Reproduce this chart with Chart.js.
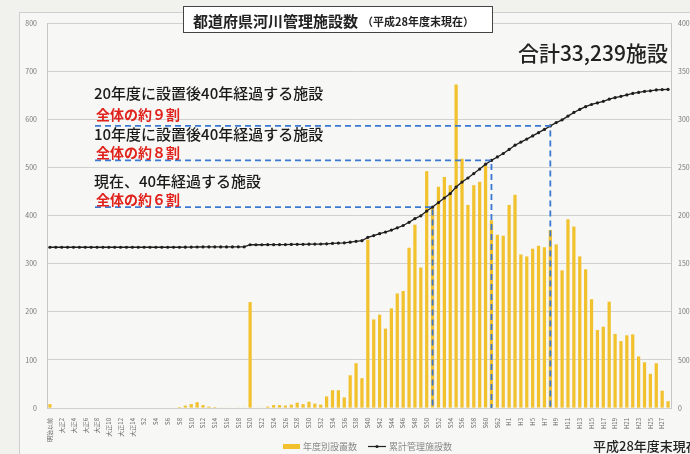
<!DOCTYPE html>
<html lang="ja">
<head>
    <meta charset="UTF-8">
    <title>都道府県河川管理施設数</title>
    <style>
        body {
            margin: 0;
            padding: 0;
            background-color: #f1f1ee;
            overflow: hidden;
        }

        #chartContainer {
            display: block;
        }
    </style>
</head>
<body>
    <canvas id="chartContainer" width="690" height="454"></canvas>

    <script src="https://cdn.jsdelivr.net/npm/chart.js"></script>
    <script>
        // 年度（明治以前, 大正1-14, 昭和1-63, 平成1-28）
        const categories = [
            '明治以前',
            '大正1', '大正2', '大正3', '大正4', '大正5', '大正6', '大正7', '大正8', '大正9', '大正10', '大正11', '大正12', '大正13', '大正14',
            'S1', 'S2', 'S3', 'S4', 'S5', 'S6', 'S7', 'S8', 'S9', 'S10', 'S11', 'S12', 'S13', 'S14', 'S15', 'S16', 'S17', 'S18', 'S19', 'S20',
            'S21', 'S22', 'S23', 'S24', 'S25', 'S26', 'S27', 'S28', 'S29', 'S30', 'S31', 'S32', 'S33', 'S34', 'S35', 'S36', 'S37', 'S38', 'S39', 'S40',
            'S41', 'S42', 'S43', 'S44', 'S45', 'S46', 'S47', 'S48', 'S49', 'S50', 'S51', 'S52', 'S53', 'S54', 'S55', 'S56', 'S57', 'S58', 'S59', 'S60',
            'S61', 'S62', 'S63',
            'H1', 'H2', 'H3', 'H4', 'H5', 'H6', 'H7', 'H8', 'H9', 'H10', 'H11', 'H12', 'H13', 'H14', 'H15', 'H16', 'H17', 'H18', 'H19', 'H20',
            'H21', 'H22', 'H23', 'H24', 'H25', 'H26', 'H27', 'H28'
        ];

        // 年度別設置数
        const yearlyCount = [
            8, 0, 0, 0, 0, 0, 0, 0, 0, 0, 0, 0, 0, 0, 0,
            0, 0, 0, 0, 0, 0, 0, 2, 5, 8, 12, 6, 3, 2, 1, 1, 0, 1, 1, 220,
            0, 1, 3, 6, 6, 5, 7, 11, 8, 13, 9, 7, 24, 37, 37, 22, 68, 93, 62, 350,
            184, 194, 165, 207, 238, 243, 333, 381, 292, 492,
            420, 460, 480, 463, 672, 518, 422, 463, 470, 504,
            390, 360, 358, 422, 443, 319, 315, 331, 337, 334,
            370, 340, 286, 392, 377, 315, 288, 226, 162, 169,
            221, 154, 139, 151, 153, 107, 95, 71, 93, 36, 14
        ];

        // 累計管理施設数
        const cumulativeCount = [
            16700, 16700, 16700, 16700, 16700, 16700, 16700, 16700, 16700, 16700, 16700,
            16700, 16700, 16700, 16700, 16700, 16700, 16700, 16700, 16700, 16700, 16700,
            16702, 16707, 16715, 16727, 16733, 16736, 16738, 16739, 16740, 16740, 16741, 16742, 16962,
            16962, 16963, 16966, 16972, 16978, 16983, 16990, 17001, 17009, 17022,
            17031, 17038, 17062, 17099, 17136, 17158, 17226, 17319, 17381, 17731,
            17915, 18109, 18274, 18481, 18719, 18962, 19295, 19676, 19968, 20460,
            20880, 21340, 21820, 22283, 22955, 23473, 23895, 24358, 24828, 25332,
            25722, 26082, 26440, 26862, 27305, 27624, 27939, 28270, 28607, 28941,
            29311, 29651, 29937, 30329, 30706, 31021, 31309, 31535, 31697, 31866,
            32087, 32241, 32380, 32531, 32684, 32791, 32886, 32957, 33050, 33086, 33100
        ];

        // 40年経過の区切り（現在・10年後・20年後）
        const milestoneIndex = [65, 75, 85];
        const milestoneTitles = ['現在、40年経過する施設', '10年度に設置後40年経過する施設', '20年度に設置後40年経過する施設'];
        const milestoneShares = ['全体の約６割', '全体の約８割', '全体の約９割'];

        const jpFont = "'Noto Sans CJK JP', 'Noto Sans', sans-serif";
        Chart.defaults.font.family = jpFont;

        const overlay = {
            id: 'overlay',
            beforeDraw(chart) {
                const ctx = chart.ctx;
                ctx.save();
                ctx.fillStyle = '#f7f7f5';
                ctx.fillRect(19, 12, chart.width, chart.height);
                ctx.strokeStyle = '#cfcfcf';
                ctx.lineWidth = 1;
                ctx.strokeRect(19.5, 12.5, chart.width, chart.height);
                ctx.restore();
            },
            afterDatasetsDraw(chart) {
                const { ctx, scales, chartArea } = chart;
                ctx.save();
                ctx.strokeStyle = '#3b78d2';
                ctx.lineWidth = 1.8;
                ctx.setLineDash([6, 4]);
                milestoneIndex.forEach(i => {
                    const x = scales.x.getPixelForValue(i);
                    const y = scales.y2.getPixelForValue(cumulativeCount[i]);
                    ctx.beginPath();
                    ctx.moveTo(95, y);
                    ctx.lineTo(x, y);
                    ctx.lineTo(x, chartArea.bottom);
                    ctx.stroke();
                });
                ctx.restore();
            },
            afterDraw(chart) {
                const { ctx, scales } = chart;
                ctx.save();

                // title box
                ctx.fillStyle = '#ffffff';
                ctx.fillRect(183, 6, 309, 26);
                ctx.strokeStyle = '#444';
                ctx.lineWidth = 1;
                ctx.strokeRect(183.5, 6.5, 309, 26);
                ctx.fillStyle = '#222';
                ctx.textBaseline = 'alphabetic';
                ctx.font = 'bold 15px ' + jpFont;
                ctx.fillText('都道府県河川管理施設数', 193, 27);
                ctx.font = 'bold 11px ' + jpFont;
                ctx.fillText('（平成28年度末現在）', 362, 26);

                // total
                ctx.font = '500 21px ' + jpFont;
                ctx.textAlign = 'right';
                ctx.fillText('合計33,239施設', 668, 61);
                ctx.textAlign = 'left';

                // milestone labels (the top one sits a little higher)
                milestoneIndex.forEach((idx, k) => {
                    const y = scales.y2.getPixelForValue(cumulativeCount[idx]);
                    const lift = k === milestoneIndex.length - 1 ? 7 : 0;
                    ctx.font = '500 15px ' + jpFont;
                    ctx.fillStyle = '#1a1a1a';
                    ctx.fillText(milestoneTitles[k], 94, y - 20 - lift);
                    ctx.font = 'bold 14px ' + jpFont;
                    ctx.fillStyle = '#e0231d';
                    ctx.fillText(milestoneShares[k], 96, y - 2 - lift / 2);
                });

                // legend
                ctx.fillStyle = '#f2c12e';
                ctx.fillRect(283, 444, 17, 5);
                ctx.font = '9px ' + jpFont;
                ctx.fillStyle = '#888';
                ctx.fillText('年度別設置数', 303, 450);
                ctx.strokeStyle = '#222';
                ctx.lineWidth = 1.2;
                ctx.beginPath();
                ctx.moveTo(368, 446.5);
                ctx.lineTo(386, 446.5);
                ctx.stroke();
                ctx.fillStyle = '#222';
                ctx.beginPath();
                ctx.arc(377, 446.5, 1.6, 0, Math.PI * 2);
                ctx.fill();
                ctx.fillStyle = '#888';
                ctx.fillText('累計管理施設数', 389, 450);

                // note
                ctx.font = '500 13px ' + jpFont;
                ctx.fillStyle = '#222';
                ctx.fillText('平成28年度末現在', 593, 451);
                ctx.restore();
            }
        };

        const ctx = document.getElementById('chartContainer').getContext('2d');
        new Chart(ctx, {
            type: 'bar',
            data: {
                labels: categories,
                datasets: [
                    {
                        type: 'line',
                        label: '累計管理施設数',
                        data: cumulativeCount,
                        yAxisID: 'y2',
                        borderColor: '#1e1e1e',
                        borderWidth: 1.3,
                        pointRadius: 1.6,
                        pointBorderWidth: 0,
                        pointBackgroundColor: '#1e1e1e',
                        tension: 0,
                        order: 0
                    },
                    {
                        label: '年度別設置数',
                        data: yearlyCount,
                        yAxisID: 'y',
                        backgroundColor: '#f2c12e',
                        barPercentage: 0.55,
                        categoryPercentage: 1.0,
                        order: 1
                    }
                ]
            },
            options: {
                responsive: false,
                animation: false,
                layout: { padding: { top: 23, left: 0, right: 0, bottom: 0 } },
                plugins: {
                    legend: { display: false },
                    tooltip: { enabled: false }
                },
                scales: {
                    x: {
                        grid: { display: false },
                        border: { display: false },
                        ticks: {
                            autoSkip: false,
                            maxRotation: 90,
                            minRotation: 90,
                            padding: 2,
                            color: '#666',
                            font: { size: 6 },
                            callback: (value, index) => index % 2 === 0 ? categories[index] : ''
                        },
                        afterFit: scale => { scale.height = 46; }
                    },
                    y: {
                        position: 'left',
                        min: 0,
                        max: 800,
                        ticks: { stepSize: 100, padding: 10, color: '#777', font: { size: 7 } },
                        grid: { color: '#c6c6c6', lineWidth: 0.8, drawTicks: false },
                        border: { display: true, color: '#c6c6c6' },
                        afterFit: scale => { scale.width = 47; }
                    },
                    y2: {
                        position: 'right',
                        min: 0,
                        max: 40000,
                        ticks: {
                            stepSize: 5000,
                            padding: 7,
                            color: '#777',
                            font: { size: 7 },
                            callback: value => String(value)
                        },
                        grid: { display: false, drawTicks: false },
                        border: { display: true, color: '#c6c6c6' },
                        afterFit: scale => { scale.width = 19; }
                    }
                }
            },
            plugins: [overlay]
        });
    </script>
</body>
</html>
